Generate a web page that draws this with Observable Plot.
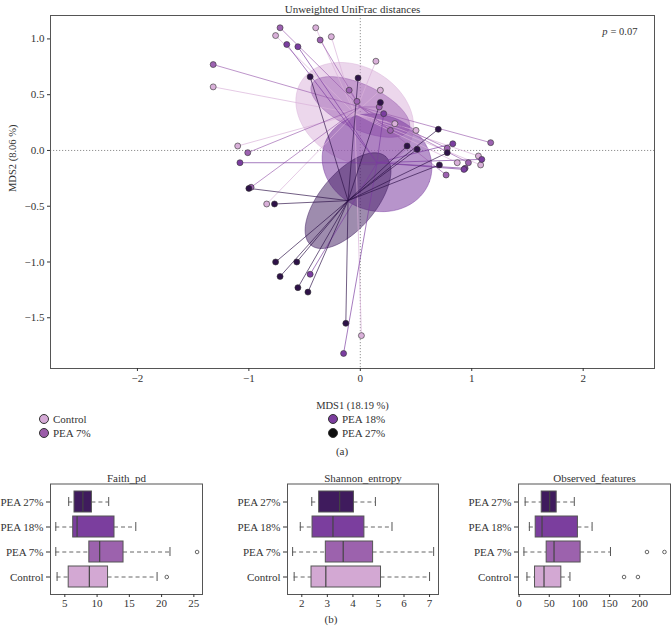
<!DOCTYPE html>
<html>
<head>
<meta charset="utf-8">
<script src="https://cdn.jsdelivr.net/npm/d3@7"></script>
<script src="https://cdn.jsdelivr.net/npm/@observablehq/plot@0.6"></script>
<style>
  body { margin: 0; background: #fff; }
  #root { position: relative; width: 671px; height: 634px; font-family: "Liberation Serif", "Times New Roman", "DejaVu Serif", serif; color: #333; }
  .abs { position: absolute; }
  .lg-dot { position: absolute; width: 8px; height: 8px; border-radius: 50%; border: 1px solid #333; }
  .lg-txt { position: absolute; font-size: 11px; line-height: 12px; white-space: nowrap; }
  .cap { position: absolute; font-size: 11px; transform: translateX(-50%); }
</style>
</head>
<body>
<div id="root"></div>
<script>
// ---------- data ----------
const groups = ["Control", "PEA 7%", "PEA 18%", "PEA 27%"];
const pointColors = ["#d9b0d9", "#9d62b1", "#7b3da0", "#2e1248"];
const ellipseColors = ["#d9b0d9", "#9d62b1", "#7b3da0", "#3d1a5e"];
const legendColors = ["#d5aad6", "#9b5ca9", "#7b3d9d", "#0d0d0d"];
const boxColors = ["#d3a8d3", "#9c62ad", "#7b3e9e", "#3f1b5d"];

// MDS coordinates per group
const controlX = [-0.40, -0.76, -0.26, 0.14, -1.32, 0.18, 0.31, 0.50, -1.10, 1.06, 0.87, 1.08, -0.84, 0.01];
const controlY = [1.10, 1.03, 1.02, 0.80, 0.57, 0.54, 0.24, 0.18, 0.04, -0.05, -0.11, -0.13, -0.48, -1.66];
const pea7X = [-0.72, -0.36, -1.32, -0.10, -0.03, 0.17, 0.27, 1.17, -1.01, 0.78, 0.97, 0.77, -0.98];
const pea7Y = [1.10, 0.99, 0.77, 0.54, 0.44, 0.39, 0.18, 0.07, -0.02, 0.02, -0.11, -0.22, -0.33];
const pea18X = [-0.66, -0.56, 0.21, 0.83, 1.09, 0.94, 0.93, -1.08, -0.45, -0.15];
const pea18Y = [0.95, 0.93, 0.33, 0.06, -0.08, -0.16, -0.17, -0.11, -1.11, -1.82];
const pea27X = [-0.45, -0.02, 0.18, 0.70, 0.42, 0.51, 0.78, 0.71, -1.00, -0.77, -0.76, -0.57, -0.72, -0.56, -0.47, -0.13];
const pea27Y = [0.66, 0.65, 0.43, 0.19, 0.04, 0.01, -0.02, -0.13, -0.34, -0.48, -1.00, -1.00, -1.13, -1.23, -1.27, -1.55];

// group centroids and ellipse parameters (centre, semi-axes, angle in degrees)
const centroidX = [-0.05, 0.00, 0.15, -0.11];
const centroidY = [0.33, 0.39, -0.11, -0.45];
const ellipseA = [0.56, 0.48, 0.50, 0.52];
const ellipseB = [0.42, 0.20, 0.43, 0.25];
const ellipseAngle = [-30, -25, -20, 50];
const ellipseOpacity = [0.5, 0.5, 0.55, 0.5];

const xTicks = [-2, -1, 0, 1, 2];
const yTicks = [1.0, 0.5, 0.0, -0.5, -1.0, -1.5];

// alpha diversity box statistics (order top to bottom)
const boxGroups = ["PEA 27%", "PEA 18%", "PEA 7%", "Control"];
const faithLow = [5.6, 3.6, 3.6, 3.8];
const faithQ1 = [6.5, 6.3, 8.8, 5.6];
const faithMed = [7.8, 6.9, 10.4, 8.8];
const faithQ3 = [9.2, 12.7, 14.1, 11.7];
const faithHigh = [11.8, 16.0, 21.3, 19.3];
const faithOutGroup = ["PEA 7%", "Control"];
const faithOutValue = [25.5, 20.8];

const shannonLow = [2.39, 1.94, 1.64, 1.70];
const shannonQ1 = [2.68, 2.42, 2.94, 2.38];
const shannonMed = [3.48, 3.22, 3.62, 2.94];
const shannonQ3 = [4.04, 4.45, 4.79, 5.10];
const shannonHigh = [4.88, 5.53, 7.16, 7.00];
const shannonOutGroup = [];
const shannonOutValue = [];

const obsLow = [10, 17, 8, 13];
const obsQ1 = [37.5, 27.5, 45.7, 26.4];
const obsMed = [50.7, 38, 57.9, 41.3];
const obsQ3 = [62.3, 97.5, 102, 70];
const obsHigh = [91.5, 121, 151.5, 84.3];
const obsOutGroup = ["PEA 7%", "PEA 7%", "Control", "Control"];
const obsOutValue = [212, 241, 174, 197];

// ---------- build tables ----------
const xs = [controlX, pea7X, pea18X, pea27X];
const ys = [controlY, pea7Y, pea18Y, pea27Y];
const points = [];
groups.forEach((g, i) => xs[i].forEach((x, j) => points.push({group: g, gi: i, x, y: ys[i][j], cx: centroidX[i], cy: centroidY[i]})));

function ellipsePath(i) {
  const out = [];
  const th = ellipseAngle[i] * Math.PI / 180;
  for (let k = 0; k <= 72; k++) {
    const t = 2 * Math.PI * k / 72;
    const ex = ellipseA[i] * Math.cos(t), ey = ellipseB[i] * Math.sin(t);
    out.push({group: groups[i], x: centroidX[i] + ex * Math.cos(th) - ey * Math.sin(th), y: centroidY[i] + ex * Math.sin(th) + ey * Math.cos(th)});
  }
  return out;
}

const colorScale = {domain: groups, range: pointColors};
const root = document.getElementById("root");
const fmt1 = d3.format(".1f");
const fmt0 = d3.format("d");
const FONT = "'Liberation Serif', 'Times New Roman', 'DejaVu Serif', serif";

const ellipseMarks = groups.map((g, i) => Plot.line(ellipsePath(i), {x: "x", y: "y", fill: ellipseColors[i], fillOpacity: ellipseOpacity[i], stroke: ellipseColors[i], strokeOpacity: 0.8, strokeWidth: 0.6}));

const topChart = Plot.plot({
  width: 671, height: 420,
  marginLeft: 50, marginRight: 17, marginTop: 15, marginBottom: 52,
  style: {fontFamily: FONT, fontSize: "11px", color: "#333", background: "transparent"},
  x: {domain: [-2.78, 2.64], label: null},
  y: {domain: [-1.955, 1.21], label: null},
  color: colorScale,
  marks: [
    Plot.ruleX([0], {stroke: "#777", strokeDasharray: "1.2,1.8", strokeWidth: 0.8}),
    Plot.ruleY([0], {stroke: "#777", strokeDasharray: "1.2,1.8", strokeWidth: 0.8}),
    ...ellipseMarks,
    Plot.link(points, {x1: "cx", y1: "cy", x2: "x", y2: "y", stroke: "group", strokeWidth: 0.8, strokeOpacity: 0.85}),
    Plot.dot(points, {x: "x", y: "y", fill: "group", stroke: "#333", strokeWidth: 0.6, r: 3}),
    Plot.frame({stroke: "#555", strokeWidth: 1}),
    Plot.axisX({ticks: xTicks, tickSize: 3, tickFormat: fmt0, label: null, tickPadding: 3}),
    Plot.axisY({ticks: yTicks, tickSize: 3, tickFormat: fmt1, label: null, tickPadding: 3}),
    Plot.text(["Unweighted UniFrac distances"], {frameAnchor: "top", dy: -10, fontSize: 11, fill: "#333"}),
    Plot.text(["MDS1 (18.19 %)"], {frameAnchor: "bottom", dy: 40, fontSize: 10.5, fill: "#333"}),
    Plot.text(["MDS2 (8.06 %)"], {frameAnchor: "left", dx: -38, rotate: -90, fontSize: 10.5, fill: "#333"}),
    Plot.text(["= 0.07"], {frameAnchor: "top-right", dx: -17, dy: 12, textAnchor: "end", fontSize: 10.5, fill: "#333"}),
    Plot.text(["p"], {frameAnchor: "top-right", dx: -47, dy: 12, textAnchor: "end", fontSize: 10.5, fontStyle: "italic", fill: "#333"})
  ]
});
topChart.classList.add("abs");
topChart.style.left = "0px"; topChart.style.top = "0px";
root.appendChild(topChart);

// legend
const legendPos = [[44, 419], [44, 433], [333, 419], [333, 433]];
groups.forEach((g, i) => {
  const d = document.createElement("div");
  d.className = "lg-dot";
  d.style.left = (legendPos[i][0] - 5) + "px";
  d.style.top = (legendPos[i][1] - 5) + "px";
  d.style.background = legendColors[i];
  root.appendChild(d);
  const t = document.createElement("div");
  t.className = "lg-txt";
  t.textContent = g;
  t.style.left = (legendPos[i][0] + 9) + "px";
  t.style.top = (legendPos[i][1] - 6) + "px";
  root.appendChild(t);
});
const capA = document.createElement("div");
capA.className = "cap"; capA.textContent = "(a)";
capA.style.left = "342px"; capA.style.top = "445px";
root.appendChild(capA);
const capB = document.createElement("div");
capB.className = "cap"; capB.textContent = "(b)";
capB.style.left = "331px"; capB.style.top = "613px";
root.appendChild(capB);

// box panels
function boxPanel(opts) {
  const rows = boxGroups.map((g, i) => ({g, low: opts.low[i], q1: opts.q1[i], med: opts.med[i], q3: opts.q3[i], high: opts.high[i], fill: boxColors[groups.indexOf(g)]}));
  const outs = opts.outGroup.map((g, i) => ({g, v: opts.outValue[i]}));
  const svg = Plot.plot({
    width: opts.width, height: 154,
    marginLeft: opts.marginLeft, marginRight: opts.marginRight, marginTop: 23.5, marginBottom: 20,
    style: {fontFamily: FONT, fontSize: "11px", color: "#333", background: "transparent"},
    x: {domain: opts.domain, label: null},
    y: {type: "band", domain: boxGroups, paddingInner: 0.18, paddingOuter: 0.28, label: null},
    marks: [
      Plot.ruleY(rows, {y: "g", x1: "low", x2: "q1", stroke: "#555", strokeDasharray: "4,3", strokeWidth: 0.9}),
      Plot.ruleY(rows, {y: "g", x1: "q3", x2: "high", stroke: "#555", strokeDasharray: "4,3", strokeWidth: 0.9}),
      Plot.tickX(rows, {y: "g", x: "low", stroke: "#555", insetTop: 6, insetBottom: 6}),
      Plot.tickX(rows, {y: "g", x: "high", stroke: "#555", insetTop: 6, insetBottom: 6}),
      Plot.barX(rows, {y: "g", x1: "q1", x2: "q3", fill: "fill", stroke: "#555", strokeWidth: 1}),
      Plot.tickX(rows, {y: "g", x: "med", stroke: "#444", strokeWidth: 1.2}),
      Plot.dot(outs, {y: "g", x: "v", r: 1.8, stroke: "#555", fill: "white", strokeWidth: 0.9}),
      Plot.frame({stroke: "#555", strokeWidth: 1}),
      Plot.axisX({ticks: opts.ticks, tickSize: 3, tickPadding: 2, label: null, tickFormat: fmt0}),
      Plot.axisY({tickSize: 4, tickPadding: 3, label: null}),
      Plot.text([opts.title], {frameAnchor: "top", dy: -10, fontSize: 11, fill: "#333"})
    ]
  });
  svg.classList.add("abs");
  svg.style.left = opts.left + "px";
  svg.style.top = "460px";
  root.appendChild(svg);
}

boxPanel({title: "Faith_pd", low: faithLow, q1: faithQ1, med: faithMed, q3: faithQ3, high: faithHigh, outGroup: faithOutGroup, outValue: faithOutValue,
  domain: [2.78, 26.34], ticks: [5, 10, 15, 20, 25], width: 210, marginLeft: 50, marginRight: 8, left: 0});
boxPanel({title: "Shannon_entropy", low: shannonLow, q1: shannonQ1, med: shannonMed, q3: shannonQ3, high: shannonHigh, outGroup: shannonOutGroup, outValue: shannonOutValue,
  domain: [1.44, 7.35], ticks: [2, 3, 4, 5, 6, 7], width: 230, marginLeft: 72, marginRight: 7, left: 215});
boxPanel({title: "Observed_features", low: obsLow, q1: obsQ1, med: obsMed, q3: obsQ3, high: obsHigh, outGroup: obsOutGroup, outValue: obsOutValue,
  domain: [-1, 251], ticks: [0, 50, 100, 150, 200], width: 226, marginLeft: 73, marginRight: 1, left: 445});
</script>
</body>
</html>
